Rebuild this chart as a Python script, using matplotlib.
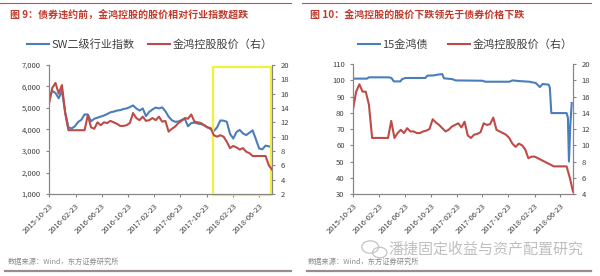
import numpy as np
import pandas as pd
import matplotlib
matplotlib.use("Agg")
import matplotlib.pyplot as plt
import matplotlib.dates as mdates
from matplotlib.patches import Rectangle, Ellipse
from matplotlib.ticker import FuncFormatter, MultipleLocator

plt.rcParams['font.family'] = ['Noto Sans CJK SC', 'DejaVu Sans']

# 1) Dati (griglia ogni 15 giorni dal 2015-10-23)
dates = pd.date_range("2015-10-23", periods=70, freq="15D")
tick_dates = pd.date_range("2015-10-23", periods=9, freq=pd.DateOffset(months=4))

sw_index = [5370, 5800, 5700, 5450, 5800, 4800, 4100, 4050, 4150, 4350,
            4450, 4700, 4700, 4380, 4500, 4550, 4600, 4650, 4720, 4800,
            4830, 4880, 4900, 4950, 4980, 5040, 5120, 4980, 4880, 4980,
            4620, 4820, 4930, 5020, 4980, 5030, 4850, 4600, 4430, 4360,
            4370, 4440, 4500, 4150, 4300, 4320, 4280, 4250, 4200, 4100,
            4020, 3930, 4100, 4420, 4410, 4360, 3800, 3580, 3880, 3980,
            3820, 3740, 3850, 3960, 3550, 3120, 3080, 3250, 3220, 3150]

stock_left = [14.6, 16.8, 17.5, 16.0, 17.2, 13.3, 10.9, 10.9, 10.9, 10.9,
              10.9, 10.9, 13.0, 11.3, 11.1, 12.0, 11.6, 12.0, 11.9, 12.2,
              12.0, 11.8, 11.5, 11.5, 11.6, 11.9, 13.3, 12.6, 12.3, 12.8,
              12.2, 12.3, 12.6, 12.3, 12.8, 12.1, 12.2, 10.7, 11.1, 11.4,
              11.9, 12.2, 12.6, 12.5, 13.1, 12.1, 12.0, 11.9, 11.6, 11.3,
              11.2, 10.2, 10.0, 10.2, 10.0, 9.3, 8.4, 8.7, 8.5, 8.2,
              8.4, 7.9, 7.7, 7.3, 7.3, 7.3, 7.3, 7.3, 6.0, 5.4]

stock_right = [14.4, 16.6, 17.5, 16.6, 16.6, 15.0, 10.9, 10.9, 10.9, 10.9,
               10.9, 10.9, 13.0, 10.9, 11.5, 11.9, 11.5, 12.1, 11.7, 11.7,
               11.5, 11.5, 11.7, 11.8, 12.0, 13.2, 12.8, 12.5, 12.1, 11.7,
               11.9, 12.3, 12.5, 12.7, 12.2, 12.9, 11.2, 10.9, 11.3, 11.4,
               11.6, 12.7, 12.5, 12.6, 13.4, 11.9, 11.7, 11.5, 11.3, 10.9,
               10.2, 9.8, 10.2, 10.0, 9.5, 8.4, 8.6, 8.6, 8.4, 8.2,
               8.0, 7.8, 7.6, 7.4, 7.4, 7.4, 7.4, 7.4, 6.0, 4.3]

# 15金鸿债: giorni dal 2015-10-23
bond_days = [0, 66, 74, 168, 181, 192, 223, 231, 247, 341, 349, 381, 396,
             420, 428, 467, 483, 609, 624, 735, 750, 782, 829, 860, 879,
             892, 920, 926, 933, 1005, 1011, 1016, 1022, 1029]
bond_price = [101.0, 101.0, 101.8, 101.8, 101.4, 99.3, 99.3, 100.7, 101.4,
              101.4, 102.8, 103.0, 103.4, 103.8, 101.2, 100.7, 99.9, 99.7,
              99.1, 99.1, 99.9, 99.5, 99.1, 98.3, 95.8, 97.7, 97.3, 95.5,
              79.8, 79.8, 77.0, 50.0, 72.0, 86.0]
bond_dates = pd.Timestamp("2015-10-23") + pd.to_timedelta(bond_days, unit="D")

BLUE = "#4a7ebb"
RED = "#be4b48"
AX = "#868686"
TXT = "#404040"

fig = plt.figure(figsize=(6, 2.76), dpi=100)


def style_axes(ax, ax2):
    for a in (ax, ax2):
        a.spines['top'].set_visible(False)
        for s in ('left', 'right', 'bottom'):
            a.spines[s].set_color(AX)
            a.spines[s].set_linewidth(0.8)
        a.tick_params(colors=AX, labelcolor=TXT, labelsize=5.5, length=2.5, width=0.8)
    ax.set_xticks(tick_dates)
    ax.xaxis.set_major_formatter(mdates.DateFormatter("%Y-%m-%d"))
    for lab in ax.get_xticklabels():
        lab.set_rotation(45)
        lab.set_ha("right")
        lab.set_rotation_mode("anchor")
    ax.set_xlim(dates[0], dates[-1])


# 2) Grafico di sinistra
ax1 = fig.add_axes([0.0817, 0.2971, 0.3717, 0.4674])
ax1b = ax1.twinx()
l1, = ax1.plot(dates, sw_index, color=BLUE, lw=1.5)
l2, = ax1b.plot(dates, stock_left, color=RED, lw=1.5)
ax1.set_ylim(1000, 7000)
ax1.yaxis.set_major_locator(MultipleLocator(1000))
ax1.yaxis.set_major_formatter(FuncFormatter(lambda v, p: f"{v:,.0f}"))
ax1b.set_ylim(2, 20)
ax1b.yaxis.set_major_locator(MultipleLocator(2))
style_axes(ax1, ax1b)
rect = Rectangle((mdates.date2num(pd.Timestamp("2017-11-22")), 940),
                 mdates.date2num(pd.Timestamp("2018-08-20")) - mdates.date2num(pd.Timestamp("2017-11-22")),
                 5950, fill=False, edgecolor="#f2f03c", lw=1.6, clip_on=False, zorder=5)
ax1.add_patch(rect)
fig.legend([l1, l2], ["SW二级行业指数", "金鸿控股股价（右）"], loc="center",
           bbox_to_anchor=(0.25, 0.84), ncol=2, frameon=False, fontsize=8,
           handlelength=2.0, handletextpad=0.2, columnspacing=1.2, labelcolor=TXT)

# 3) Grafico di destra
ax2 = fig.add_axes([0.5883, 0.2971, 0.3667, 0.471])
ax2b = ax2.twinx()
l3, = ax2.plot(bond_dates, bond_price, color=BLUE, lw=1.5)
l4, = ax2b.plot(dates, stock_right, color=RED, lw=1.5)
ax2.set_ylim(30, 110)
ax2.yaxis.set_major_locator(MultipleLocator(10))
ax2b.set_ylim(4, 20)
ax2b.yaxis.set_major_locator(MultipleLocator(2))
style_axes(ax2, ax2b)
fig.legend([l3, l4], ["15金鸿债", "金鸿控股股价（右）"], loc="center",
           bbox_to_anchor=(0.775, 0.84), ncol=2, frameon=False, fontsize=8,
           handlelength=2.0, handletextpad=0.2, columnspacing=1.8, labelcolor=TXT)

# 4) Titoli, fonti, linee
fig.text(0.017, 0.948, "图 9：债券违约前，金鸿控股的股价相对行业指数超跌", color="#c0392b",
         fontsize=7.2, fontweight="bold", va="center")
fig.text(0.517, 0.948, "图 10：金鸿控股的股价下跌领先于债券价格下跌", color="#c0392b",
         fontsize=7.2, fontweight="bold", va="center")
fig.text(0.013, 0.05, "数据来源：Wind，东方证券研究所", color="#8c8c8c", fontsize=5.2, va="center")
fig.text(0.513, 0.05, "数据来源：Wind，东方证券研究所", color="#8c8c8c", fontsize=5.2, va="center")
fig.text(0.648, 0.095, "潘捷固定收益与资产配置研究", color="#b8b8b8", fontsize=10.8,
         va="center", alpha=0.9)
# piccola icona del watermark
fig.add_artist(Ellipse((0.617, 0.105), 0.028, 0.045, fill=False, ec="#c4c4c4", lw=0.9))
fig.add_artist(Ellipse((0.633, 0.085), 0.024, 0.038, fill=False, ec="#c4c4c4", lw=0.9))
for x0, x1 in ((0.0, 0.485), (0.503, 0.985)):
    fig.add_artist(plt.Line2D([x0, x1], [0.99, 0.99], color="#c0504d", lw=0.8))
    fig.add_artist(plt.Line2D([x0 + 0.008, x1], [0.018, 0.018], color="#9a8c8c", lw=1.6))

fig.savefig("out.png", dpi=100)
